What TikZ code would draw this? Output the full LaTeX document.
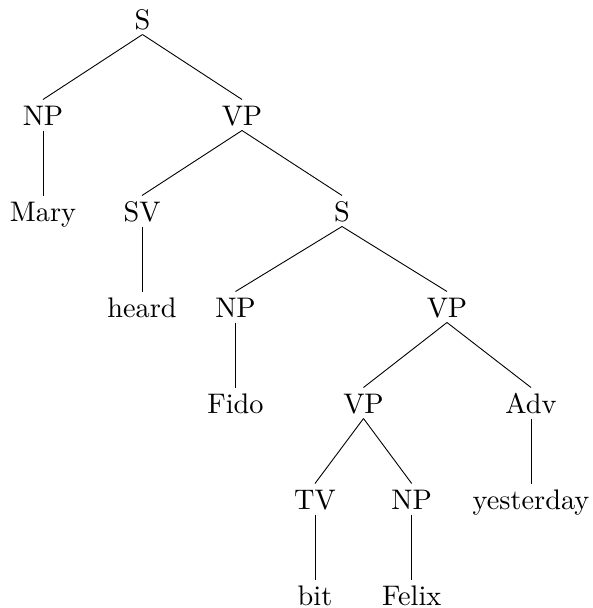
\documentclass[tikz,border=0pt]{standalone}
\usetikzlibrary{calc}
\tikzset{
  lbl/.style={anchor=base, inner sep=0pt, scale=2.83},
  edge/.style={line width=0.9pt, black}
}
\newcommand{\tedge}[2]{\draw[edge] ($(#1.base)+(0,5)$) -- ($(#2.base)+(0,-26)$);}
\begin{document}
\begin{tikzpicture}[x=1pt,y=-1pt]
\useasboundingbox (0,0) rectangle (593,608);
% row 0
\node[lbl] (s0) at (142.5,29.5) {S};
% row 1
\node[lbl] (np1) at (43,125.5) {NP};
\node[lbl] (vp1) at (242,125.5) {VP};
% row 2
\node[lbl] (mary) at (43,221.5) {Mary};
\node[lbl] (sv) at (142,221.5) {SV};
\node[lbl] (s2) at (342,221.5) {S};
% row 3
\node[lbl] (heard) at (142,317.5) {heard};
\node[lbl] (np3) at (235.5,317.5) {NP};
\node[lbl] (vp3) at (447,317.5) {VP};
% row 4
\node[lbl] (fido) at (235.5,413.5) {Fido};
\node[lbl] (vp4) at (363.5,413.5) {VP};
\node[lbl] (adv) at (531,413.5) {Adv};
% row 5
\node[lbl] (tv) at (315,509.5) {TV};
\node[lbl] (np5) at (411.7,509.5) {NP};
\node[lbl] (yest) at (531,509.5) {yesterday};
% row 6
\node[lbl] (bit) at (315,605.5) {bit};
\node[lbl] (felix) at (411.7,605.5) {Felix};
% edges
\tedge{s0}{np1}
\tedge{s0}{vp1}
\tedge{np1}{mary}
\tedge{vp1}{sv}
\tedge{vp1}{s2}
\tedge{sv}{heard}
\tedge{s2}{np3}
\tedge{s2}{vp3}
\tedge{np3}{fido}
\tedge{vp3}{vp4}
\tedge{vp3}{adv}
\tedge{vp4}{tv}
\tedge{vp4}{np5}
\tedge{adv}{yest}
\tedge{tv}{bit}
\tedge{np5}{felix}
\end{tikzpicture}
\end{document}
